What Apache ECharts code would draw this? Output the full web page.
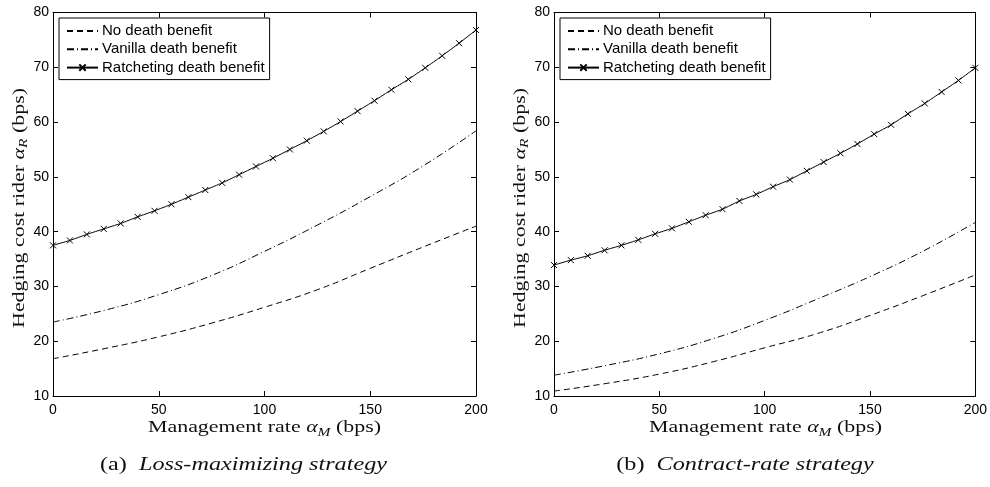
<!DOCTYPE html>
<html>
<head>
<meta charset="utf-8">
<script src="https://cdn.jsdelivr.net/npm/echarts@6/dist/echarts.min.js"></script>
<style>
html,body{margin:0;padding:0;background:#fff;}
#chart{width:990px;height:487px;}
</style>
</head>
<body>
<div id="chart"></div>
<script>
// ---- data ----
const seriesNames = ['No death benefit', 'Vanilla death benefit', 'Ratcheting death benefit'];
const xTickLabels = ['0', '50', '100', '150', '200'];
const yTickLabels = ['10', '20', '30', '40', '50', '60', '70', '80'];

// management rate (bps) at the markers of the ratcheting curve
const xMarks = [0, 8, 16, 24, 32, 40, 48, 56, 64, 72, 80, 88, 96, 104, 112, 120, 128, 136, 144, 152, 160, 168, 176, 184, 192, 200];
// management rate (bps) at which the dashed curves were read
const xCoarse = [0, 25, 50, 75, 100, 125, 150, 175, 200];

// (a) Loss-maximizing strategy
const noDeathA   = [16.8, 18.7, 20.8, 23.3, 26.2, 29.4, 33.3, 37.2, 41.0];
const vanillaA   = [23.5, 25.7, 28.5, 32.0, 36.4, 41.2, 46.4, 52.0, 58.4];
const ratchetA   = [37.5, 38.4, 39.5, 40.5, 41.5, 42.7, 43.8, 45.0, 46.3, 47.6, 48.9, 50.4, 51.9, 53.4, 55.0, 56.6, 58.3, 60.1, 62.0, 63.9, 65.9, 67.8, 69.9, 72.1, 74.4, 76.8];

// (b) Contract-rate strategy
const noDeathB   = [10.9, 12.3, 14.0, 16.2, 18.8, 21.4, 24.7, 28.3, 32.1];
const vanillaB   = [13.8, 15.6, 17.7, 20.4, 23.8, 27.7, 31.8, 36.4, 41.7];
const ratchetB   = [33.9, 34.8, 35.6, 36.6, 37.5, 38.5, 39.6, 40.6, 41.8, 43.0, 44.1, 45.6, 46.8, 48.2, 49.5, 51.1, 52.7, 54.3, 56.0, 57.8, 59.5, 61.5, 63.4, 65.5, 67.6, 69.9];

const xNameTokens = [['Management rate ', 'n'], ['α', 'a'], ['M', 's'], [' (bps)', 'n']];
const yNameTokens = [['Hedging cost rider ', 'n'], ['α', 'a'], ['R', 's'], [' (bps)', 'n']];
const captions = [
  [['(a)', 'n'], ['  ', 'n'], ['Loss-maximizing strategy', 'i']],
  [['(b)', 'n'], ['  ', 'n'], ['Contract-rate strategy', 'i']]
];

// ---- helpers ----
const pairs = (xs, ys) => xs.map((x, i) => [x, ys[i]]);
const xMin = Number(xTickLabels[0]), xMax = Number(xTickLabels[xTickLabels.length - 1]);
const xInt = Number(xTickLabels[1]) - xMin;
const yMin = Number(yTickLabels[0]), yMax = Number(yTickLabels[yTickLabels.length - 1]);
const yInt = Number(yTickLabels[1]) - yMin;

const sans = 'Liberation Sans';
const serif = 'Liberation Serif';

const rich = {
  n: {fontFamily: serif, fontSize: 17, fill: '#111'},
  a: {fontFamily: serif, fontSize: 17, fontStyle: 'italic', fill: '#111'},
  s: {fontFamily: serif, fontSize: 12, fontStyle: 'italic', fill: '#111', padding: [9, 0, 0, 0]}
};
const capRich = {
  n: {fontFamily: serif, fontSize: 18, fill: '#111'},
  i: {fontFamily: serif, fontSize: 18, fontStyle: 'italic', fill: '#111'}
};

const mctx = document.createElement('canvas').getContext('2d');
function measure(tokens, r) {
  let w = 0;
  tokens.forEach(([t, k]) => {
    const st = r[k];
    mctx.font = (st.fontStyle || 'normal') + ' ' + st.fontSize + 'px "' + st.fontFamily + '"';
    w += mctx.measureText(t).width;
  });
  return w;
}
const richStr = tokens => tokens.map(([t, k]) => '{' + k + '|' + t + '}').join('');

// layout of the two panels
const grids = [
  {left: 53, top: 12.5, width: 423, height: 383.5},
  {left: 554, top: 12.5, width: 423, height: 383.5}
];

const nameScale = 233 / measure(xNameTokens, rich);
const capScale = 287 / measure(captions[0], capRich);
const yNameW = measure(yNameTokens, rich) * nameScale;

const graphics = [];
grids.forEach((g, gi) => {
  graphics.push({
    type: 'text', x: g.left + g.width / 2, y: 428, scaleX: nameScale,
    style: {text: richStr(xNameTokens), rich: rich, align: 'center', verticalAlign: 'middle'}
  });
  graphics.push({
    type: 'text', x: g.left - 33.5, y: 88 + yNameW / 2, scaleX: nameScale, rotation: Math.PI / 2,
    style: {text: richStr(yNameTokens), rich: rich, align: 'center', verticalAlign: 'middle'}
  });
});
[243.5, 745].forEach((cx, i) => {
  graphics.push({
    type: 'text', x: cx, y: 465, scaleX: capScale,
    style: {text: richStr(captions[i]), rich: capRich, align: 'center', verticalAlign: 'middle'}
  });
});

const xAxes = [], yAxes = [];
grids.forEach((g, gi) => {
  const common = {
    gridIndex: gi, type: 'value', min: xMin, max: xMax, interval: xInt,
    axisLine: {show: true, onZero: false, lineStyle: {color: '#000', width: 1}},
    axisTick: {show: true, inside: true, length: 5, lineStyle: {color: '#000', width: 1}},
    splitLine: {show: false}
  };
  xAxes.push(Object.assign({}, common, {
    position: 'bottom',
    axisLabel: {color: '#000', fontFamily: sans, fontSize: 14, margin: 7}
  }));
  xAxes.push(Object.assign({}, common, {position: 'top', axisLabel: {show: false}}));
  const ycommon = {
    gridIndex: gi, type: 'value', min: yMin, max: yMax, interval: yInt,
    axisLine: {show: true, onZero: false, lineStyle: {color: '#000', width: 1}},
    axisTick: {show: true, inside: true, length: 5, lineStyle: {color: '#000', width: 1}},
    splitLine: {show: false}
  };
  yAxes.push(Object.assign({}, ycommon, {
    position: 'left',
    axisLabel: {color: '#000', fontFamily: sans, fontSize: 14, margin: 4}
  }));
  yAxes.push(Object.assign({}, ycommon, {position: 'right', axisLabel: {show: false}}));
});

const dashed = [6, 4];
const dashDot = [7, 3, 1, 3];
const crossSymbol = 'path://M0,0L10,10M10,0L0,10';

function makeSeries(gi, noDb, van, rat) {
  return [
    {name: seriesNames[0], type: 'line', xAxisIndex: gi * 2, yAxisIndex: gi * 2,
     data: pairs(xCoarse, noDb), smooth: true, symbol: 'none',
     lineStyle: {color: '#000', width: 1, type: dashed}, itemStyle: {color: '#000'}},
    {name: seriesNames[1], type: 'line', xAxisIndex: gi * 2, yAxisIndex: gi * 2,
     data: pairs(xCoarse, van), smooth: true, symbol: 'none',
     lineStyle: {color: '#000', width: 1, type: dashDot}, itemStyle: {color: '#000'}},
    {name: seriesNames[2], type: 'line', xAxisIndex: gi * 2, yAxisIndex: gi * 2,
     data: pairs(xMarks, rat), smooth: 0.2, symbol: crossSymbol, symbolSize: 6, showSymbol: true,
     lineStyle: {color: '#000', width: 1, type: 'solid'},
     itemStyle: {color: '#000', borderColor: '#000', borderWidth: 1}}
  ];
}

const hiddenSym = {color: 'rgba(0,0,0,0)', borderColor: 'rgba(0,0,0,0)', borderWidth: 0};
const legends = grids.map(g => ({
  left: g.left + 6, top: 18, orient: 'vertical',
  itemWidth: 31, itemHeight: 8, itemGap: 2.3,
  padding: [5, 5, 4, 7],
  borderColor: '#000', borderWidth: 1, backgroundColor: '#fff',
  textStyle: {fontFamily: sans, fontSize: 15, color: '#000', padding: [0, 0, 0, -1], lineHeight: 16},
  data: [
    {name: seriesNames[0], itemStyle: hiddenSym},
    {name: seriesNames[1], itemStyle: hiddenSym},
    {name: seriesNames[2]}
  ],
  selectedMode: false
}));

const chart = echarts.init(document.getElementById('chart'), null, {renderer: 'canvas'});
chart.setOption({
  animation: false,
  backgroundColor: '#fff',
  grid: grids,
  xAxis: xAxes,
  yAxis: yAxes,
  legend: legends,
  series: makeSeries(0, noDeathA, vanillaA, ratchetA).concat(makeSeries(1, noDeathB, vanillaB, ratchetB)),
  graphic: graphics
});
</script>
</body>
</html>
